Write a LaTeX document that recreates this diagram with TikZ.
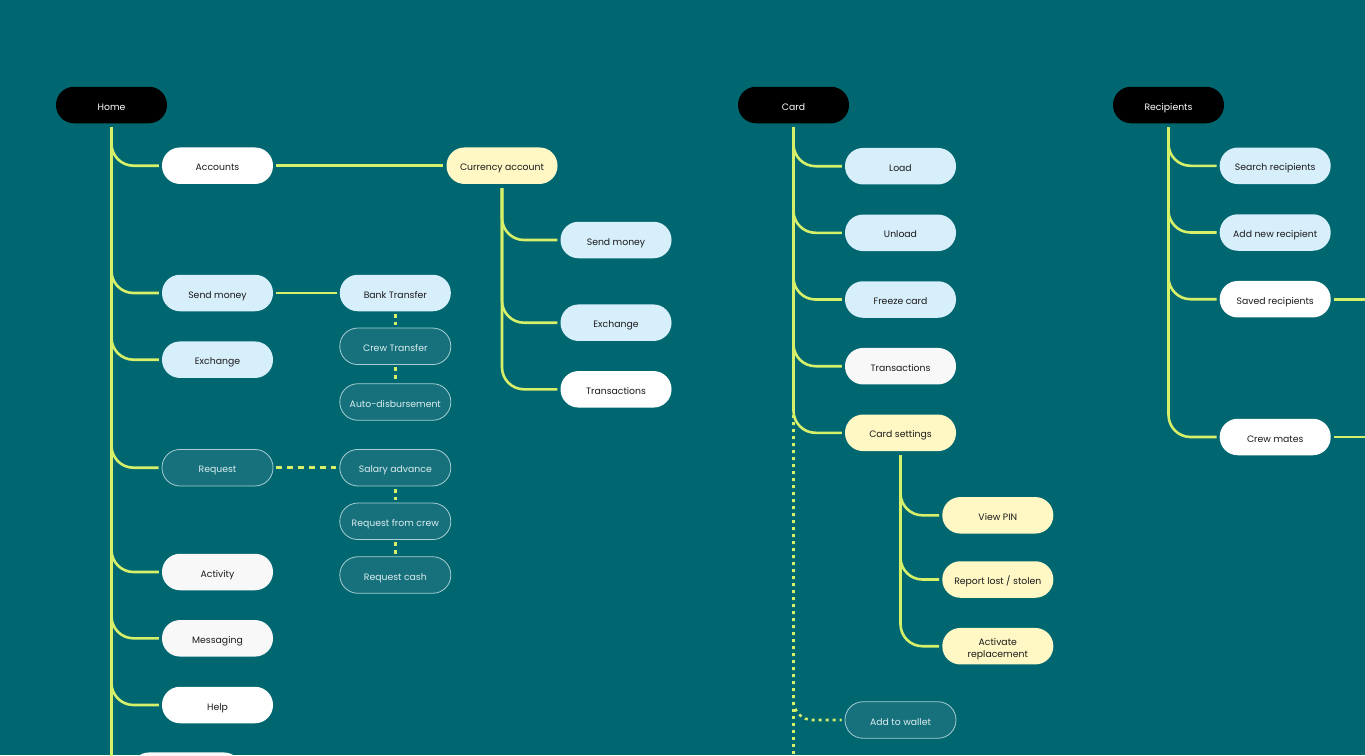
\documentclass[tikz,border=0pt]{standalone}
\usepackage{fontspec}
\setmainfont{Poppins}
\definecolor{bg}{HTML}{006670}
\definecolor{ln}{HTML}{D6F06A}
\definecolor{lblue}{HTML}{D7EEFB}
\definecolor{lyel}{HTML}{FFF8C4}
\definecolor{offw}{HTML}{F8F8F8}
\definecolor{tealn}{HTML}{17717C}
\definecolor{tealb}{HTML}{A6CFD3}
\definecolor{tealt}{HTML}{DCEEEF}
\definecolor{ink}{HTML}{1A1A1A}
\tikzset{
  pill/.style={rounded corners=18pt, minimum width=111pt, minimum height=36.5pt, inner sep=0pt,
    font=\fontsize{9.3}{12}\selectfont, align=center, text height=11pt, text depth=1pt},
  root/.style={pill, fill=black, text=white},
  wnode/.style={pill, fill=white, text=ink},
  onode/.style={pill, fill=offw, text=ink},
  bnode/.style={pill, fill=lblue, text=ink},
  ynode/.style={pill, fill=lyel, text=ink},
  tnode/.style={pill, fill=tealn, draw=tealb, line width=0.8pt, text=tealt},
  link/.style={draw=ln, line width=2.6pt, shorten <=3pt, shorten >=3pt},
  br/.style={link, rounded corners=22pt, shorten <=4pt},
  dotl/.style={draw=ln, line width=2.6pt, dash pattern=on 3pt off 4pt},
  dashl/.style={draw=ln, line width=2.6pt, dash pattern=on 6pt off 5pt, shorten <=3pt, shorten >=3pt},
  vdash/.style={draw=ln, line width=2.6pt, dash pattern=on 4pt off 4pt, shorten <=2.5pt, shorten >=2.5pt},
}
\begin{document}
\begin{tikzpicture}[x=1pt, y=-1pt]
\fill[bg] (0,0) rectangle (1365,755);
\useasboundingbox (0,0) rectangle (1365,755);

% roots
\node[root] (home) at (111.5,105) {Home};
\node[root] (card) at (793.5,105) {Card};
\node[root] (recip) at (1168.5,105) {Recipients};

% Home children
\node[wnode] (acc) at (217.5,165.7) {Accounts};
\node[bnode] (send) at (217.5,293) {Send money};
\node[bnode] (exch) at (217.5,359.7) {Exchange};
\node[tnode] (req) at (217.5,467.7) {Request};
\node[onode] (act) at (217.5,572) {Activity};
\node[onode] (msg) at (217.5,638.3) {Messaging};
\node[wnode] (help) at (217.5,705) {Help};
\node[onode] (more) at (186.5,770.7) {};

% Currency account
\node[ynode] (cur) at (502,165.7) {Currency account};
\node[bnode] (csend) at (616,240) {Send money};
\node[bnode] (cexch) at (616,322.7) {Exchange};
\node[wnode] (ctrans) at (616,389.3) {Transactions};

% Send money / Request
\node[bnode] (bank) at (395.3,293) {Bank Transfer};
\node[tnode] (crew) at (395.3,346.3) {Crew Transfer};
\node[tnode] (auto) at (395.3,402) {Auto-disbursement};
\node[tnode] (sal) at (395.3,467.7) {Salary advance};
\node[tnode] (rfc) at (395.3,521.3) {Request from crew};
\node[tnode] (rcash) at (395.3,575) {Request cash};

% Card
\node[bnode] (load) at (900.5,166.2) {Load};
\node[bnode] (unload) at (900.5,232.8) {Unload};
\node[bnode] (freeze) at (900.5,299.5) {Freeze card};
\node[onode] (trans) at (900.5,366.2) {Transactions};
\node[ynode] (cset) at (900.5,432.8) {Card settings};
\node[ynode] (pin) at (997.8,515.3) {View PIN};
\node[ynode] (lost) at (997.8,579.5) {Report lost / stolen};
\node[ynode] (repl) at (997.8,646.2) {\begin{tabular}{@{}c@{}}Activate\\replacement\end{tabular}};
\node[tnode] (wallet) at (900.5,720) {Add to wallet};

% Recipients
\node[bnode] (search) at (1275.2,165.8) {Search recipients};
\node[bnode] (addr) at (1275.2,232.5) {Add new recipient};
\node[wnode] (saved) at (1275.2,299.2) {Saved recipients};
\node[wnode] (mates) at (1275.2,437) {Crew mates};

% free ends
\coordinate (homeend) at (111.5,760);
\coordinate (dotstart) at (793.5,415);
\coordinate (cardend) at (793.5,760);
\coordinate (savedR) at (1372,299.2);
\coordinate (matesR) at (1372,437);

% Home tree
\draw[link, shorten <=4pt, shorten >=0pt] (home.south) -- (homeend);
\foreach \c in {acc,send,exch,req,act,msg,help}
  \draw[br] (home.south) |- (\c.west);
\draw[link] (acc.east) -- (cur.west);
\foreach \c in {csend,cexch,ctrans}
  \draw[br] (cur.south) |- (\c.west);
\draw[link] (send.east) -- (bank.west);
\draw[vdash] (bank.south) -- (crew.north);
\draw[vdash] (crew.south) -- (auto.north);
\draw[dashl] (req.east) -- (sal.west);
\draw[vdash] (sal.south) -- (rfc.north);
\draw[vdash] (rfc.south) -- (rcash.north);

% Card tree
\foreach \c in {load,unload,freeze,trans,cset}
  \draw[br] (card.south) |- (\c.west);
\foreach \c in {pin,lost,repl}
  \draw[br] (cset.south) |- (\c.west);
\draw[dotl] (dotstart) -- (cardend);
\draw[dotl, rounded corners=19pt, shorten >=3pt] (dotstart) |- (wallet.west);

% Recipients tree
\foreach \c in {search,addr,saved,mates}
  \draw[br] (recip.south) |- (\c.west);
\draw[link, shorten >=0pt] (saved.east) -- (savedR);
\draw[link, shorten >=0pt] (mates.east) -- (matesR);
\end{tikzpicture}
\end{document}
